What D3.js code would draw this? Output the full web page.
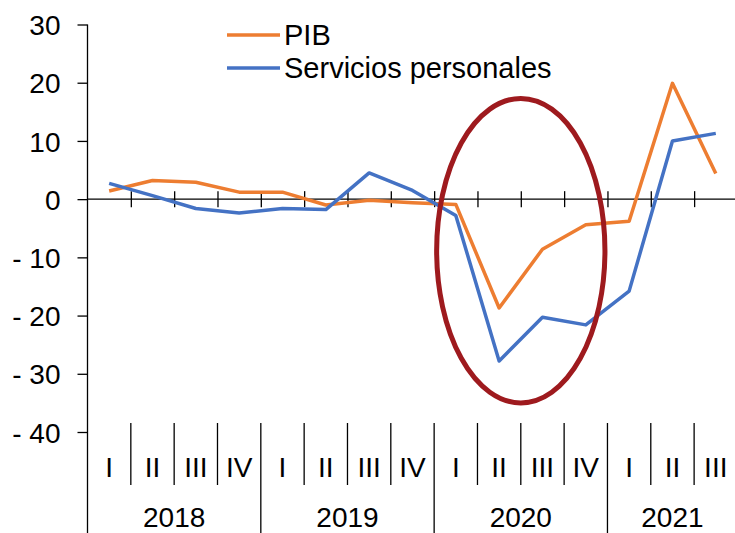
<!DOCTYPE html>
<html>
<head>
<meta charset="utf-8">
<script src="https://cdn.jsdelivr.net/npm/d3@7"></script>
<style>
  html, body { margin: 0; padding: 0; background: #fff; }
  svg text { font-family: "Liberation Sans", Arial, sans-serif; fill: #000; }
</style>
</head>
<body>
<div id="chart"></div>
<script>
// data
var years = ["2018", "2019", "2020", "2021"];
var quarters = ["I", "II", "III", "IV"];
var periods = [
    "2018-I", "2018-II", "2018-III", "2018-IV",
    "2019-I", "2019-II", "2019-III", "2019-IV",
    "2020-I", "2020-II", "2020-III", "2020-IV",
    "2021-I", "2021-II", "2021-III"
];
var pib = [1.4, 3.2, 2.9, 1.2, 1.2, -1.0, -0.2, -0.6, -0.9, -18.7, -8.6, -4.4, -3.8, 19.9, 4.4];
var servicios = [2.7, 0.6, -1.6, -2.4, -1.6, -1.8, 4.5, 1.5, -2.8, -27.8, -20.3, -21.6, -15.8, 10.0, 11.3];
var yTicks = [30, 20, 10, 0, -10, -20, -30, -40];
var seriesNames = ["PIB", "Servicios personales"];
// highlighted window (2020) and its vertical extent
var highlightPeriods = ["2020-I", "2020-IV"];
var highlightRange = [17.3, -35];

var W = 735, H = 533;
var margin = { top: 24.5, left: 87.5, bottom: 432 };
var colors = { pib: "#ED7D31", serv: "#4472C4", ring: "#9E1A1E" };
var fontSize = "28px";

var svg = d3.select("#chart").append("svg")
    .attr("width", W)
    .attr("height", H);

// scales
var x = d3.scaleBand()
    .domain(periods)
    .range([margin.left, margin.left + 43.33 * periods.length])
    .paddingInner(0)
    .paddingOuter(0);
var xEdge = d3.scaleLinear()
    .domain([0, periods.length])
    .range(x.range());
var y = d3.scaleLinear()
    .domain([-40, 30])
    .range([margin.bottom, margin.top]);

// Y axis
var yAxis = svg.append("g")
    .attr("transform", "translate(" + margin.left + ",0)")
    .call(d3.axisLeft(y)
        .tickValues(yTicks)
        .tickSize(10)
        .tickPadding(17)
        .tickFormat(function (d) { return d < 0 ? "- " + Math.abs(d) : d; }));
yAxis.select(".domain").remove();
yAxis.selectAll(".tick line").attr("stroke", "#000").attr("stroke-width", 1.3);
yAxis.selectAll("text")
    .style("font-size", fontSize)
    .attr("dy", "0.36em");

svg.append("line")
    .attr("x1", margin.left).attr("x2", margin.left)
    .attr("y1", y(30)).attr("y2", H)
    .attr("stroke", "#000").attr("stroke-width", 1.3);

// X axis at zero with ticks crossing the line
var xAxis = svg.append("g")
    .attr("transform", "translate(0," + y(0) + ")")
    .call(d3.axisBottom(xEdge)
        .tickValues(d3.range(1, periods.length + 1))
        .tickSizeOuter(0)
        .tickFormat(""));
xAxis.select(".domain")
    .attr("d", "M" + margin.left + ",0H" + W)
    .attr("stroke", "#000").attr("stroke-width", 1.3);
xAxis.selectAll(".tick line")
    .attr("y1", -8).attr("y2", 8)
    .attr("stroke", "#000").attr("stroke-width", 1.3);

// category table below the plot
var cat = svg.append("g");
periods.forEach(function (p, i) {
    if (i === 0) return;
    var isYear = i % 4 === 0;
    cat.append("line")
        .attr("x1", xEdge(i)).attr("x2", xEdge(i))
        .attr("y1", 423).attr("y2", isYear ? H : 485)
        .attr("stroke", "#000").attr("stroke-width", 1.3);
});
cat.selectAll("text.q")
    .data(periods)
    .enter().append("text")
    .attr("class", "q")
    .attr("x", function (d) { return x(d) + x.bandwidth() / 2; })
    .attr("y", 477)
    .attr("text-anchor", "middle")
    .style("font-size", fontSize)
    .text(function (d) { return d.split("-")[1]; });
cat.selectAll("text.yr")
    .data(years)
    .enter().append("text")
    .attr("class", "yr")
    .attr("x", function (d, i) {
        var n = periods.filter(function (p) { return p.indexOf(d) === 0; }).length;
        return xEdge(i * 4 + n / 2);
    })
    .attr("y", 527)
    .attr("text-anchor", "middle")
    .style("font-size", fontSize)
    .text(function (d) { return d; });

// lines
var line = d3.line()
    .x(function (d, i) { return x(periods[i]) + x.bandwidth() / 2; })
    .y(function (d) { return y(d); });

svg.append("path")
    .datum(pib)
    .attr("fill", "none")
    .attr("stroke", colors.pib)
    .attr("stroke-width", 3.5)
    .attr("stroke-linejoin", "round")
    .attr("d", line);

svg.append("path")
    .datum(servicios)
    .attr("fill", "none")
    .attr("stroke", colors.serv)
    .attr("stroke-width", 3.5)
    .attr("stroke-linejoin", "round")
    .attr("d", line);

// highlight ellipse around 2020
var ringW = 5;
var ex0 = x(highlightPeriods[0]) + ringW / 2;
var ex1 = x(highlightPeriods[1]) + x.bandwidth() - ringW / 2;
svg.append("ellipse")
    .attr("cx", (ex0 + ex1) / 2)
    .attr("cy", (y(highlightRange[0]) + y(highlightRange[1])) / 2)
    .attr("rx", (ex1 - ex0) / 2)
    .attr("ry", (y(highlightRange[1]) - y(highlightRange[0])) / 2)
    .attr("fill", "none")
    .attr("stroke", colors.ring)
    .attr("stroke-width", ringW);

// legend
var legend = svg.append("g").attr("transform", "translate(227,0)");
[colors.pib, colors.serv].forEach(function (c, i) {
    var ly = 35 + i * 33;
    legend.append("line")
        .attr("x1", 0).attr("x2", 53)
        .attr("y1", ly).attr("y2", ly)
        .attr("stroke", c).attr("stroke-width", 3.5);
    legend.append("text")
        .attr("x", 57)
        .attr("y", ly + 10)
        .style("font-size", "29px")
        .text(seriesNames[i]);
});
</script>
</body>
</html>
